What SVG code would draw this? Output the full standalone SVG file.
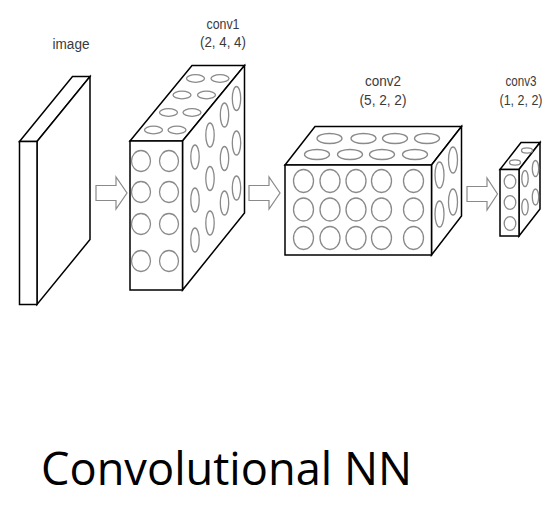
<svg xmlns="http://www.w3.org/2000/svg" width="559" height="505" viewBox="0 0 559 505">
<style>
.box{fill:#fff;stroke:#000;stroke-width:1.5;stroke-linejoin:miter}
.c{fill:none;stroke:#8a8a8a;stroke-width:1.3}
.arr{fill:#fff;stroke:#8a8a8a;stroke-width:1.2;stroke-linejoin:miter}
.lbl{font-family:"Liberation Sans",Arial,sans-serif;font-size:14px;fill:#3a3a3a;text-anchor:middle}
.title{font-family:"Open Sans","Noto Sans",sans-serif;font-size:46px;fill:#000}
</style>
<rect width="559" height="505" fill="#fff"/>

<g id="image">
  <polygon class="box" points="19.5,141.5 72.5,76.5 90,76.5 37,141.5"/>
  <polygon class="box" points="37,141.5 90,76.5 90,239.5 37,304.5"/>
  <rect class="box" x="19.5" y="141.5" width="17.5" height="163"/>
  <text class="lbl" x="71" y="49" textLength="37" lengthAdjust="spacingAndGlyphs">image</text>
</g>

<g id="conv1">
  <polygon class="box" points="130,141 192,65.5 244.5,65.5 182.5,141"/>
  <polygon class="box" points="182.5,141 244.5,65.5 244.5,213 182.5,290"/>
  <rect class="box" x="130" y="141" width="52.5" height="149"/>
  <!-- front circles -->
  <ellipse class="c" cx="141" cy="161" rx="9.5" ry="10.5"/>
  <ellipse class="c" cx="169" cy="161" rx="9.5" ry="10.5"/>
  <ellipse class="c" cx="141" cy="192" rx="9.5" ry="10.5"/>
  <ellipse class="c" cx="169" cy="192" rx="9.5" ry="10.5"/>
  <ellipse class="c" cx="141" cy="224" rx="9.5" ry="10.5"/>
  <ellipse class="c" cx="169" cy="224" rx="9.5" ry="10.5"/>
  <ellipse class="c" cx="141" cy="261" rx="9.5" ry="10.5"/>
  <ellipse class="c" cx="169" cy="261" rx="9.5" ry="10.5"/>
  <!-- top ellipses -->
  <ellipse class="c" cx="153.5" cy="130" rx="9" ry="3.8"/>
  <ellipse class="c" cx="177" cy="130" rx="9" ry="3.8"/>
  <ellipse class="c" cx="168.5" cy="112.5" rx="9" ry="3.8"/>
  <ellipse class="c" cx="192" cy="112.5" rx="9" ry="3.8"/>
  <ellipse class="c" cx="182" cy="95" rx="9" ry="3.8"/>
  <ellipse class="c" cx="206.5" cy="95" rx="9" ry="3.8"/>
  <ellipse class="c" cx="195.5" cy="78.5" rx="9" ry="3.8"/>
  <ellipse class="c" cx="220" cy="78.5" rx="9" ry="3.8"/>
  <!-- side ellipses -->
  <ellipse class="c" cx="195" cy="157" rx="4.2" ry="12"/>
  <ellipse class="c" cx="195" cy="200" rx="4.2" ry="12"/>
  <ellipse class="c" cx="195" cy="240" rx="4.2" ry="12"/>
  <ellipse class="c" cx="210" cy="135" rx="4.2" ry="12"/>
  <ellipse class="c" cx="210" cy="178.5" rx="4.2" ry="12"/>
  <ellipse class="c" cx="210" cy="223" rx="4.2" ry="12"/>
  <ellipse class="c" cx="224.5" cy="115" rx="4.2" ry="12"/>
  <ellipse class="c" cx="224.5" cy="158.5" rx="4.2" ry="12"/>
  <ellipse class="c" cx="224.5" cy="203" rx="4.2" ry="12"/>
  <ellipse class="c" cx="236.5" cy="98.5" rx="4.2" ry="12"/>
  <ellipse class="c" cx="236.5" cy="143" rx="4.2" ry="12"/>
  <ellipse class="c" cx="236.5" cy="188" rx="4.2" ry="12"/>
  <text class="lbl" x="223" y="29" textLength="33" lengthAdjust="spacingAndGlyphs">conv1</text>
  <text class="lbl" x="223" y="47" textLength="46" lengthAdjust="spacingAndGlyphs">(2, 4, 4)</text>
</g>

<g id="conv2">
  <polygon class="box" points="285,165 315,126.5 461.5,126.5 431.5,165"/>
  <polygon class="box" points="431.5,165 461.5,126.5 461.5,216 431.5,255"/>
  <rect class="box" x="285" y="165" width="146.5" height="90"/>
  <!-- front circles -->
  <ellipse class="c" cx="303.5" cy="181" rx="10" ry="11.5"/>
  <ellipse class="c" cx="330" cy="181" rx="10" ry="11.5"/>
  <ellipse class="c" cx="356" cy="181" rx="10" ry="11.5"/>
  <ellipse class="c" cx="381.5" cy="181" rx="10" ry="11.5"/>
  <ellipse class="c" cx="413.5" cy="181" rx="10" ry="11.5"/>
  <ellipse class="c" cx="303.5" cy="209.5" rx="10" ry="11.5"/>
  <ellipse class="c" cx="330" cy="209.5" rx="10" ry="11.5"/>
  <ellipse class="c" cx="356" cy="209.5" rx="10" ry="11.5"/>
  <ellipse class="c" cx="381.5" cy="209.5" rx="10" ry="11.5"/>
  <ellipse class="c" cx="413.5" cy="209.5" rx="10" ry="11.5"/>
  <ellipse class="c" cx="303.5" cy="238" rx="10" ry="11.5"/>
  <ellipse class="c" cx="330" cy="238" rx="10" ry="11.5"/>
  <ellipse class="c" cx="356" cy="238" rx="10" ry="11.5"/>
  <ellipse class="c" cx="381.5" cy="238" rx="10" ry="11.5"/>
  <ellipse class="c" cx="413.5" cy="238" rx="10" ry="11.5"/>
  <!-- top ellipses -->
  <ellipse class="c" cx="317" cy="154.5" rx="12.5" ry="5"/>
  <ellipse class="c" cx="350" cy="154.5" rx="12.5" ry="5"/>
  <ellipse class="c" cx="382" cy="154.5" rx="12.5" ry="5"/>
  <ellipse class="c" cx="415" cy="154.5" rx="12.5" ry="5"/>
  <ellipse class="c" cx="329.5" cy="138.5" rx="12.5" ry="5"/>
  <ellipse class="c" cx="363.5" cy="138.5" rx="12.5" ry="5"/>
  <ellipse class="c" cx="395" cy="138.5" rx="12.5" ry="5"/>
  <ellipse class="c" cx="427" cy="138.5" rx="12.5" ry="5"/>
  <!-- side ellipses -->
  <ellipse class="c" cx="439.5" cy="175" rx="4.5" ry="13"/>
  <ellipse class="c" cx="439.5" cy="214" rx="4.5" ry="13"/>
  <ellipse class="c" cx="453" cy="160" rx="4.5" ry="13"/>
  <ellipse class="c" cx="453" cy="202" rx="4.5" ry="13"/>
  <text class="lbl" x="383" y="86" textLength="36" lengthAdjust="spacingAndGlyphs">conv2</text>
  <text class="lbl" x="383" y="105" textLength="47" lengthAdjust="spacingAndGlyphs">(5, 2, 2)</text>
</g>

<g id="conv3">
  <polygon class="box" points="500,169.5 521,142.5 540,142.5 519,169.5"/>
  <polygon class="box" points="519,169.5 540,142.5 540,209 519,236"/>
  <rect class="box" x="500" y="169.5" width="19" height="66.5"/>
  <ellipse class="c" cx="510" cy="181.5" rx="5.8" ry="6.8"/>
  <ellipse class="c" cx="510" cy="202.5" rx="5.8" ry="6.8"/>
  <ellipse class="c" cx="510" cy="223.5" rx="5.8" ry="6.8"/>
  <ellipse class="c" cx="515" cy="162.5" rx="5.5" ry="2.6"/>
  <ellipse class="c" cx="527" cy="150.5" rx="5.5" ry="2.6"/>
  <ellipse class="c" cx="525" cy="178.5" rx="3.2" ry="8"/>
  <ellipse class="c" cx="525" cy="207" rx="3.2" ry="8"/>
  <ellipse class="c" cx="535.5" cy="168.5" rx="3.2" ry="8"/>
  <ellipse class="c" cx="535.5" cy="197" rx="3.2" ry="8"/>
  <text class="lbl" x="521" y="86" textLength="31" lengthAdjust="spacingAndGlyphs">conv3</text>
  <text class="lbl" x="521" y="105" textLength="43" lengthAdjust="spacingAndGlyphs">(1, 2, 2)</text>
</g>

<g id="connectors">
  <path class="arr" d="M96,185.5 H116 V177 L127,193 L116,209 V200.5 H96 Z"/>
  <path class="arr" d="M249,185.5 H269 V177 L280,193 L269,209 V200.5 H249 Z"/>
  <path class="arr" d="M467,186.5 H487 V178 L497.5,194 L487,210 V201.5 H467 Z"/>
</g>

<text class="title" x="41" y="485" textLength="371" lengthAdjust="spacingAndGlyphs">Convolutional NN</text>
</svg>
